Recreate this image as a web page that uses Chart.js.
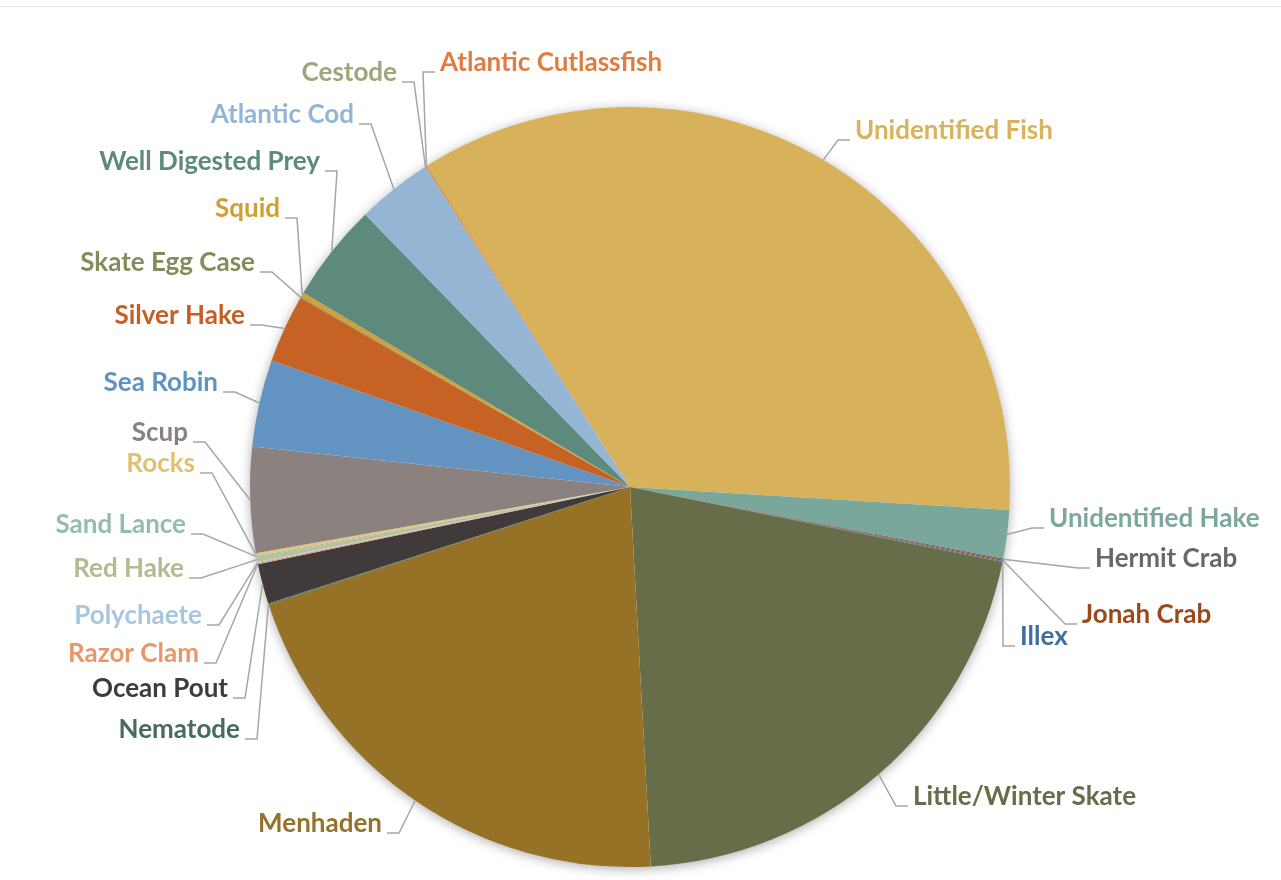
<!DOCTYPE html>
<html>
<head>
<meta charset="utf-8">
<script src="https://cdn.jsdelivr.net/npm/chart.js@4.4.1/dist/chart.umd.min.js"></script>
<style>
  html, body { margin: 0; padding: 0; background: #fff; }
  #wrap { position: relative; width: 1281px; height: 880px; }
  #topline { position: absolute; left: 0; top: 6px; width: 1281px; height: 1px; background: #e4e4e4; }
</style>
</head>
<body>
<div id="wrap">
  <div id="topline"></div>
  <canvas id="chartPrey" width="1281" height="880"></canvas>
</div>
<script>
/* ============ DATA (clockwise, starting at Unidentified Fish) ============ */
var categories = [
  'Unidentified Fish', 'Unidentified Hake', 'Hermit Crab', 'Jonah Crab', 'Illex',
  'Little/Winter Skate', 'Menhaden', 'Nematode', 'Ocean Pout', 'Razor Clam',
  'Polychaete', 'Red Hake', 'Sand Lance', 'Rocks', 'Scup', 'Sea Robin',
  'Silver Hake', 'Skate Egg Case', 'Squid', 'Well Digested Prey', 'Atlantic Cod',
  'Cestode', 'Atlantic Cutlassfish'
];
var shares = [
  35.0, 2.05, 0.05, 0.05, 0.05,
  21.0, 20.9, 0.05, 1.7, 0.05,
  0.05, 0.2, 0.05, 0.12, 4.5, 3.7,
  2.9, 0.05, 0.2, 4.2, 3.2,
  0.05, 0.05
];

/* ============ STYLE ============ */
var sliceColors = [
  '#D8B15B', '#7AA79C', '#6F6766', '#9A4A1B', '#3F70A0',
  '#666D48', '#957226', '#476B5E', '#403A3B', '#E8956A',
  '#A8C5E0', '#B9C09A', '#93BDB0', '#E6C47A', '#8B8280', '#6394C1',
  '#C66224', '#868C5C', '#D49F30', '#5D8A7D', '#94B5D3',
  '#9DA77A', '#E07B3E'
];
var labelColors = [
  '#D9B25C', '#7BA89B', '#6E6665', '#9A4A1A', '#3E6F9E',
  '#666E48', '#94722A', '#476B5E', '#403A3A', '#E8976A',
  '#A9C6E0', '#B5BA92', '#93BDB0', '#E3BF70', '#8A807E', '#5F93C0',
  '#C55F22', '#858B5A', '#D09F30', '#5C8A7C', '#94B6D6',
  '#9CA77A', '#E07C40'
];
// label layout: text edge x and baseline y (Excel-style hand placed labels)
var labelX = [855, 1049, 1095, 1082, 1020, 913, 382, 240, 228, 199, 202, 184, 186, 195, 188, 218, 245, 255, 280, 320, 354, 397, 440];
var labelY = [139, 527, 567, 623, 645, 805, 832, 738, 697, 662, 624, 577, 533, 472, 441, 391, 324, 271, 217, 170, 123, 81, 71];

var startAngle = -32.3;

// soft outer shadow behind the whole pie
var pieShadow = {
  id: 'pieShadow',
  beforeDatasetsDraw: function(chart) {
    var arc = chart.getDatasetMeta(0).data[0];
    var ctx = chart.ctx;
    ctx.save();
    ctx.shadowColor = 'rgba(0,0,0,0.35)';
    ctx.shadowBlur = 12;
    ctx.shadowOffsetY = 2;
    ctx.beginPath();
    ctx.arc(arc.x, arc.y, arc.outerRadius - 0.5, 0, Math.PI * 2);
    ctx.fillStyle = '#fff';
    ctx.fill();
    ctx.restore();
  }
};

// outside labels with leader lines
var outerLabels = {
  id: 'outerLabels',
  afterDatasetsDraw: function(chart) {
    var ctx = chart.ctx;
    var meta = chart.getDatasetMeta(0);
    ctx.save();
    ctx.font = 'bold 26px Lato';
    ctx.textBaseline = 'alphabetic';
    meta.data.forEach(function(arc, i) {
      var mid = (arc.startAngle + arc.endAngle) / 2;
      var ax = arc.x + Math.cos(mid) * arc.outerRadius;
      var ay = arc.y + Math.sin(mid) * arc.outerRadius;
      var lx = labelX[i], ly = labelY[i];
      var toRight = lx > ax;
      var dir = toRight ? -1 : 1;
      var stubEnd = lx + dir * 5;
      var elbow = lx + dir * 17;
      var sy = ly + 1;

      ctx.beginPath();
      ctx.moveTo(ax, ay);
      ctx.lineTo(elbow, sy);
      ctx.lineTo(stubEnd, sy);
      ctx.strokeStyle = '#A6A6A6';
      ctx.lineWidth = 1.5;
      ctx.stroke();

      ctx.fillStyle = labelColors[i];
      ctx.textAlign = toRight ? 'left' : 'right';
      ctx.fillText(categories[i], lx, ly);
    });
    ctx.restore();
  }
};

new Chart(document.getElementById('chartPrey'), {
  type: 'pie',
  data: {
    labels: categories,
    datasets: [{
      data: shares,
      backgroundColor: sliceColors,
      borderWidth: 0
    }]
  },
  options: {
    responsive: false,
    animation: false,
    rotation: startAngle,
    layout: { padding: { left: 250, right: 271, top: 107, bottom: 13 } },
    plugins: {
      legend: { display: false },
      tooltip: { enabled: false }
    }
  },
  plugins: [pieShadow, outerLabels]
});
</script>
</body>
</html>
